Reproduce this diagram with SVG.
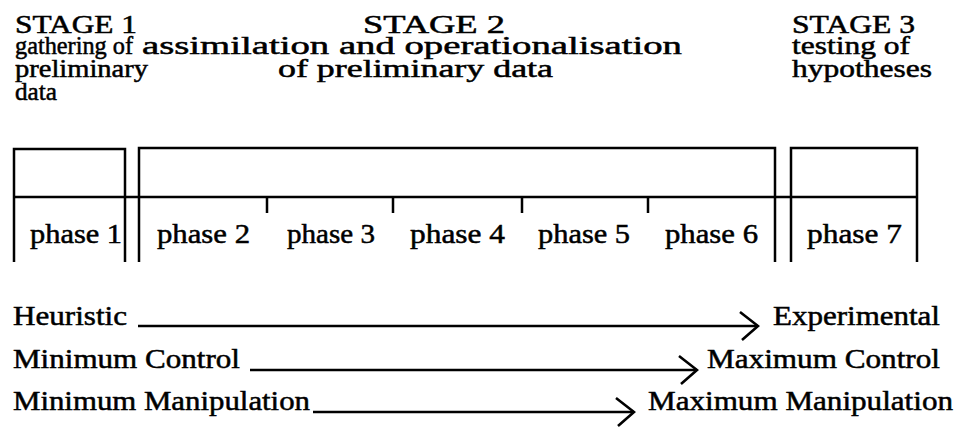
<svg xmlns="http://www.w3.org/2000/svg" width="959" height="442" viewBox="0 0 959 442">
  <defs>
    <style>
      text { font-family: "Liberation Serif", "Times New Roman", serif; fill: #000; stroke: #000; stroke-width: 0.5; }
      .hd { font-size: 25px; }
      .ph { font-size: 27px; }
      .bt { font-size: 27px; }
      .box { fill: none; stroke: #000; stroke-width: 2.5; }
      .arr { fill: none; stroke: #000; stroke-width: 2.5; marker-end: url(#chev); }
    </style>
    <marker id="chev" markerUnits="userSpaceOnUse" viewBox="0 0 22 32" markerWidth="22" markerHeight="32" refX="20" refY="16" orient="auto">
      <path d="M2,2 L20,16 L4,30" fill="none" stroke="#000" stroke-width="2.6"/>
    </marker>
  </defs>
  <rect width="959" height="442" fill="#fff"/>

  <g id="stage1-header">
    <text class="hd" x="15" y="33" textLength="122" lengthAdjust="spacingAndGlyphs">STAGE 1</text>
    <text class="hd" x="15" y="54" textLength="118" lengthAdjust="spacingAndGlyphs">gathering of</text>
    <text class="hd" x="15" y="77" textLength="133" lengthAdjust="spacingAndGlyphs">preliminary</text>
    <text class="hd" x="15" y="100" textLength="42" lengthAdjust="spacingAndGlyphs">data</text>
  </g>
  <g id="stage2-header">
    <text class="hd" x="363" y="33" textLength="142" lengthAdjust="spacingAndGlyphs">STAGE 2</text>
    <text class="hd" x="142" y="54" textLength="540" lengthAdjust="spacingAndGlyphs">assimilation and operationalisation</text>
    <text class="hd" x="278" y="77" textLength="275" lengthAdjust="spacingAndGlyphs">of preliminary data</text>
  </g>
  <g id="stage3-header">
    <text class="hd" x="792" y="33" textLength="123" lengthAdjust="spacingAndGlyphs">STAGE 3</text>
    <text class="hd" x="792" y="54" textLength="118" lengthAdjust="spacingAndGlyphs">testing of</text>
    <text class="hd" x="792" y="77" textLength="140" lengthAdjust="spacingAndGlyphs">hypotheses</text>
  </g>

  <g id="stage1-box">
    <path class="box" d="M14,262 V149 H125 V262"/>
  </g>
  <g id="stage2-box">
    <path class="box" d="M139,262 V148 H775 V262"/>
  </g>
  <g id="stage3-box">
    <path class="box" d="M791,262 V148 H917 V262"/>
  </g>
  <g id="phase-divider">
    <path class="box" d="M14,197 H917"/>
    <path class="box" d="M267,197 V213 M393,197 V213 M522,197 V213 M648,197 V213"/>
  </g>

  <g id="phase1"><text class="ph" x="30" y="243" textLength="92" lengthAdjust="spacingAndGlyphs">phase 1</text></g>
  <g id="phase2"><text class="ph" x="157" y="243" textLength="93" lengthAdjust="spacingAndGlyphs">phase 2</text></g>
  <g id="phase3"><text class="ph" x="287" y="243" textLength="88" lengthAdjust="spacingAndGlyphs">phase 3</text></g>
  <g id="phase4"><text class="ph" x="410" y="243" textLength="95" lengthAdjust="spacingAndGlyphs">phase 4</text></g>
  <g id="phase5"><text class="ph" x="538" y="243" textLength="92" lengthAdjust="spacingAndGlyphs">phase 5</text></g>
  <g id="phase6"><text class="ph" x="665" y="243" textLength="93" lengthAdjust="spacingAndGlyphs">phase 6</text></g>
  <g id="phase7"><text class="ph" x="807" y="243" textLength="95" lengthAdjust="spacingAndGlyphs">phase 7</text></g>

  <g id="scale-labels">
    <text class="bt" x="13" y="325" textLength="114" lengthAdjust="spacingAndGlyphs">Heuristic</text>
    <text class="bt" x="773" y="325" textLength="167" lengthAdjust="spacingAndGlyphs">Experimental</text>
    <text class="bt" x="13" y="368" textLength="227" lengthAdjust="spacingAndGlyphs">Minimum Control</text>
    <text class="bt" x="707" y="368" textLength="233" lengthAdjust="spacingAndGlyphs">Maximum Control</text>
    <text class="bt" x="13" y="410" textLength="297" lengthAdjust="spacingAndGlyphs">Minimum Manipulation</text>
    <text class="bt" x="648" y="410" textLength="305" lengthAdjust="spacingAndGlyphs">Maximum Manipulation</text>
  </g>

  <g id="connectors">
    <path class="arr" d="M138,326 H758"/>
    <path class="arr" d="M250,370 H697"/>
    <path class="arr" d="M313,412 H634"/>
  </g>
</svg>
